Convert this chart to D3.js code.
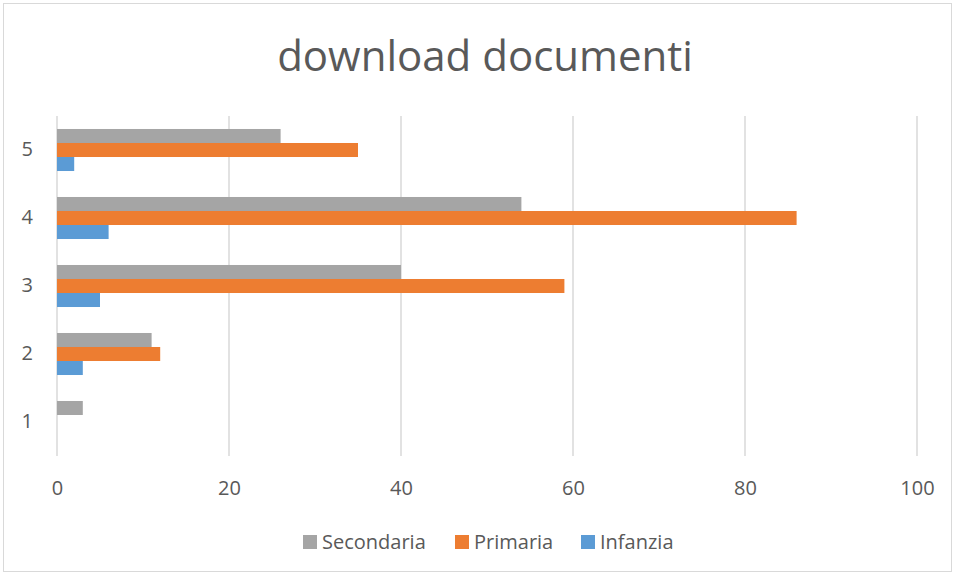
<!DOCTYPE html>
<html>
<head>
<meta charset="utf-8">
<script src="https://cdn.jsdelivr.net/npm/d3@7"></script>
<style>
  body { margin: 0; background: #fff; }
  text { font-family: "Open Sans", sans-serif; fill: #595959; }
</style>
</head>
<body>
<div class="chart"></div>
<script>
var categories = ["1", "2", "3", "4", "5"];
var seriesNames = ["Secondaria", "Primaria", "Infanzia"];
var secondaria = [3, 11, 40, 54, 26];
var primaria = [0, 12, 59, 86, 35];
var infanzia = [0, 3, 5, 6, 2];
var xTicks = [0, 20, 40, 60, 80, 100];
var colors = ["#A5A5A5", "#ED7D31", "#5B9BD5"];

var svgWidth = 955;
var svgHeight = 575;

var margin = { top: 116, right: 38, bottom: 119, left: 57 };
var width = svgWidth - margin.left - margin.right;
var height = svgHeight - margin.top - margin.bottom;

var svg = d3.select(".chart")
  .append("svg")
  .attr("width", svgWidth)
  .attr("height", svgHeight);

// chart border
svg.append("rect")
  .attr("x", 3.5).attr("y", 3.5)
  .attr("width", svgWidth - 7).attr("height", svgHeight - 7)
  .attr("fill", "#fff")
  .attr("stroke", "#d9d9d9");

var chartGroup = svg.append("g")
  .attr("transform", `translate(${margin.left}, ${margin.top})`);

// scales
var xScale = d3.scaleLinear().domain([0, 100]).range([0, 860]);

var yScale = d3.scaleBand()
  .domain(categories.slice().reverse())
  .range([0, height])
  .paddingInner(0.382)
  .paddingOuter(0.191);

var ySub = d3.scaleBand()
  .domain(seriesNames)
  .range([0, yScale.bandwidth()]);

// gridlines
chartGroup.selectAll(".grid")
  .data(xTicks)
  .enter()
  .append("line")
  .attr("x1", d => xScale(d))
  .attr("x2", d => xScale(d))
  .attr("y1", 0)
  .attr("y2", height)
  .attr("stroke", "#d9d9d9")
  .attr("stroke-width", 1.5);

// bars
var table = categories.map(function (c, i) {
  return { cat: c, values: [secondaria[i], primaria[i], infanzia[i]] };
});

var groups = chartGroup.selectAll(".cat")
  .data(table)
  .enter()
  .append("g")
  .attr("transform", d => `translate(0, ${yScale(d.cat)})`);

groups.selectAll("rect")
  .data(d => d.values.map((v, k) => ({ name: seriesNames[k], value: v, color: colors[k] })))
  .enter()
  .append("rect")
  .attr("x", xScale(0))
  .attr("y", d => ySub(d.name))
  .attr("width", d => xScale(d.value) - xScale(0))
  .attr("height", ySub.bandwidth())
  .attr("fill", d => d.color);

// axes
var bottomAxis = d3.axisBottom(xScale).tickValues(xTicks).tickSize(0).tickPadding(25);
var leftAxis = d3.axisLeft(yScale).tickSize(0).tickPadding(24);

var xAxisG = chartGroup.append("g")
  .attr("transform", `translate(0, ${height})`)
  .call(bottomAxis);
xAxisG.select(".domain").remove();
xAxisG.selectAll("text").style("font-size", "20px").attr("fill", "#595959");

var yAxisG = chartGroup.append("g").call(leftAxis);
yAxisG.select(".domain").remove();
yAxisG.selectAll("text").style("font-size", "20px").attr("fill", "#595959");

// title
svg.append("text")
  .attr("x", 485)
  .attr("y", 71)
  .attr("text-anchor", "middle")
  .style("font-size", "42px")
  .text("download documenti");

// legend
var legendX = [303, 455, 581];
var legend = svg.selectAll(".legend")
  .data(seriesNames)
  .enter()
  .append("g")
  .attr("transform", (d, i) => `translate(${legendX[i]}, 535)`);

legend.append("rect")
  .attr("width", 14)
  .attr("height", 14)
  .attr("fill", (d, i) => colors[i]);

legend.append("text")
  .attr("x", 19)
  .attr("y", 14)
  .style("font-size", "20px")
  .text(d => d);
</script>
</body>
</html>
